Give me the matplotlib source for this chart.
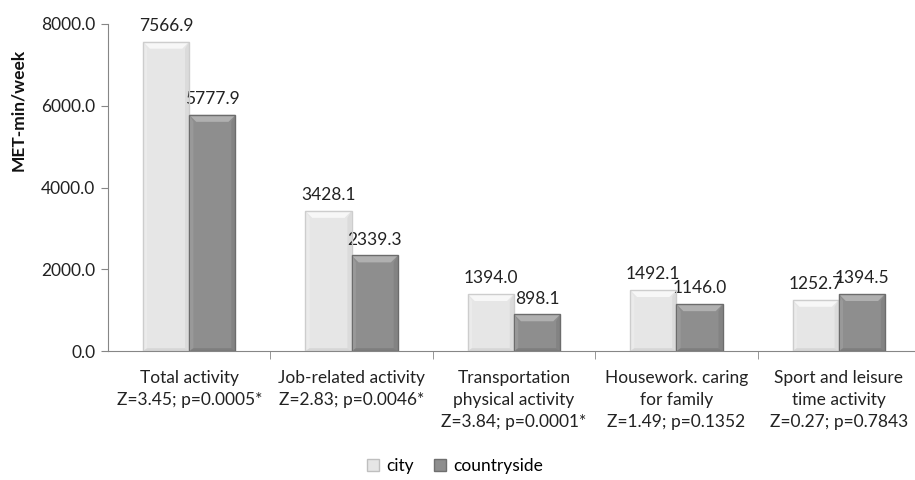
import matplotlib.pyplot as plt
from matplotlib.patches import Polygon, Patch
import numpy as np

plt.rcParams['font.family'] = ['Lato', 'DejaVu Sans']

categories = [
    "Total activity\nZ=3.45; p=0.0005*",
    "Job-related activity\nZ=2.83; p=0.0046*",
    "Transportation\nphysical activity\nZ=3.84; p=0.0001*",
    "Housework. caring\nfor family\nZ=1.49; p=0.1352",
    "Sport and leisure\ntime activity\nZ=0.27; p=0.7843",
]
city = [7566.9, 3428.1, 1394.0, 1492.1, 1252.7]
countryside = [5777.9, 2339.3, 898.1, 1146.0, 1394.5]
yticks = [0, 2000, 4000, 6000, 8000]

W, H = 915, 480
fig = plt.figure(figsize=(W / 100, H / 100), dpi=100)
ax_l, ax_r, ax_b, ax_t = 108, 920, 351, 24
ax = fig.add_axes([ax_l / W, 1 - ax_b / H, (ax_r - ax_l) / W, (ax_b - ax_t) / H])
ax.set_xlim(-0.5, 4.5)
ax.set_ylim(0, 8000)

# pixel -> data conversion for the bevel size
px_x = 5.0 / (ax_r - ax_l)
px_y = 8000 / (ax_b - ax_t)
bw = 0.285
bev = 7
fs = 12.5


def bevel_bar(x0, h, face, light, dark, edge):
    x1 = x0 + bw
    dx, dy = bev * px_x, bev * px_y
    ax.add_patch(Polygon([(x0, 0), (x1, 0), (x1, h), (x0, h)],
                         closed=True, fc=face, ec='none', zorder=2))
    # top bevel
    ax.add_patch(Polygon([(x0, h), (x1, h), (x1 - dx, h - dy), (x0 + dx, h - dy)],
                         closed=True, fc=light, ec='none', zorder=3))
    # side bevels
    ax.add_patch(Polygon([(x0, h), (x0 + dx * 0.6, h - dy), (x0 + dx * 0.6, dy * 0.4), (x0, 0)],
                         closed=True, fc=light, ec='none', alpha=0.35, zorder=3))
    ax.add_patch(Polygon([(x1, h), (x1 - dx * 0.6, h - dy), (x1 - dx * 0.6, dy * 0.4), (x1, 0)],
                         closed=True, fc=dark, ec='none', alpha=0.35, zorder=3))
    # bottom bevel
    ax.add_patch(Polygon([(x0, 0), (x1, 0), (x1 - dx * 0.6, dy * 0.4), (x0 + dx * 0.6, dy * 0.4)],
                         closed=True, fc=dark, ec='none', alpha=0.5, zorder=3))
    ax.add_patch(Polygon([(x0, 0), (x1, 0), (x1, h), (x0, h)],
                         closed=True, fc='none', ec=edge, lw=1.0, zorder=4))


x = np.arange(len(categories))
for i in x:
    bevel_bar(i - bw, city[i], '#e6e6e6', '#f7f7f7', '#c8c8c8', '#cdcdcd')
    bevel_bar(i, countryside[i], '#8e8e8e', '#b0b0b0', '#707070', '#6c6c6c')
    ax.text(i - bw / 2, city[i] + 190, f"{city[i]:.1f}", ha='center', va='bottom',
            fontsize=fs, color='#222222')
    ax.text(i + bw / 2, countryside[i] + 190, f"{countryside[i]:.1f}", ha='center',
            va='bottom', fontsize=fs, color='#222222')

ax.set_yticks(yticks)
ax.set_yticklabels([f"{v:.1f}" for v in yticks], fontsize=fs, color='#222222')
ax.set_xticks(x)
ax.set_xticklabels(categories, fontsize=fs, color='#222222', linespacing=1.45)
ax.tick_params(axis='x', length=0, pad=14)
ax.set_xticks(np.arange(0.5, 4.5, 1), minor=True)
ax.tick_params(axis='x', which='minor', length=6, color='#868686', direction='out')
ax.tick_params(axis='y', length=5, color='#868686', direction='out', pad=4)

for s in ['top', 'right']:
    ax.spines[s].set_visible(False)
for s in ['left', 'bottom']:
    ax.spines[s].set_color('#868686')

fig.text(18 / W, 1 - 110 / H, "MET-min/week", rotation=90, ha='center', va='center',
         fontsize=fs, fontweight='bold', color='#111111')

handles = [Patch(fc='#e6e6e6', ec='#bfbfbf', label='city'),
           Patch(fc='#8e8e8e', ec='#6f6f6f', label='countryside')]
fig.legend(handles=handles, loc='center', bbox_to_anchor=(455 / W, 1 - 466 / H),
           ncol=2, frameon=False, fontsize=fs, handlelength=0.7, handleheight=0.7,
           handletextpad=0.4, columnspacing=1.2)

fig.savefig('out.png', dpi=100)
